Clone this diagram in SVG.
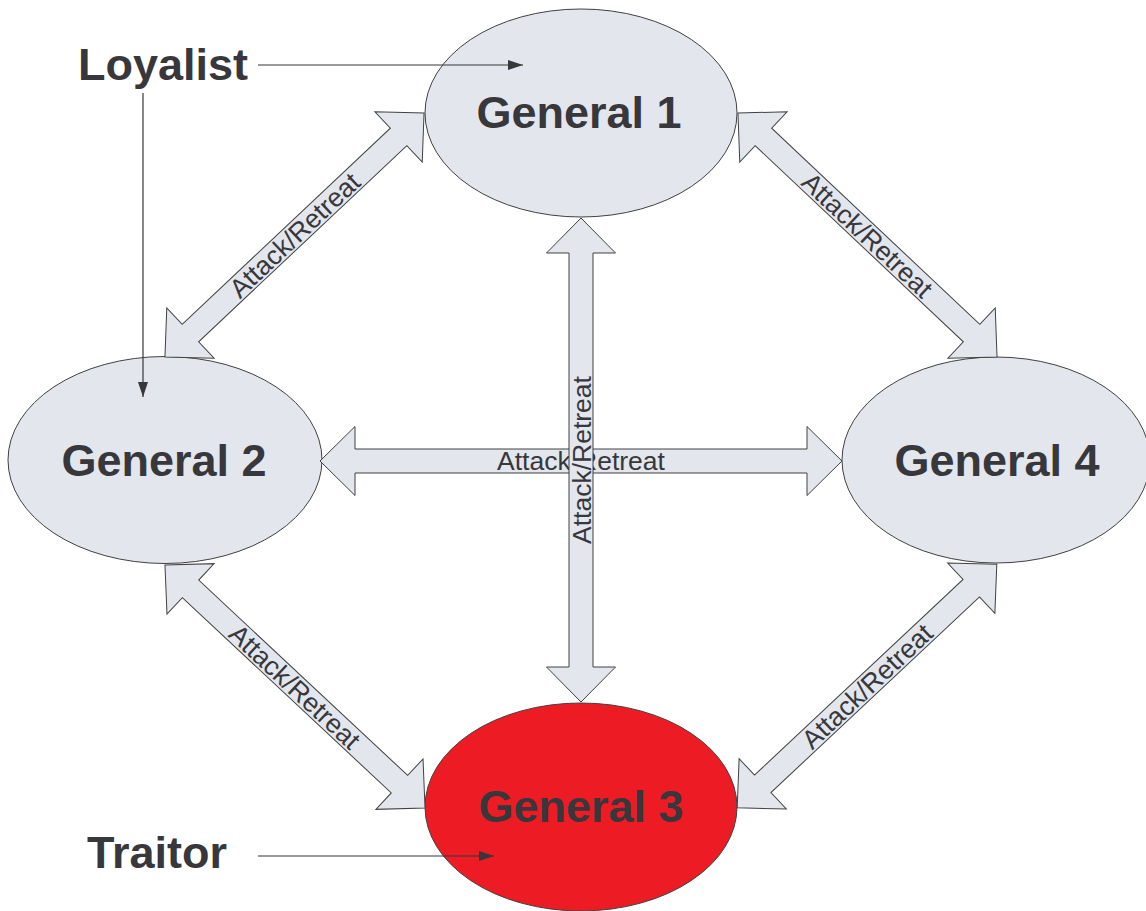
<svg xmlns="http://www.w3.org/2000/svg" xmlns:xlink="http://www.w3.org/1999/xlink" width="1146" height="911" viewBox="0 0 1146 911">
<style>
.node{fill:#e3e6ed;stroke:#404040;stroke-width:1}
.traitor{fill:#ed1c24;stroke:#404040;stroke-width:1}
.title{font-family:"Liberation Sans",Arial,sans-serif;font-weight:bold;font-size:45px;fill:#37373c;text-anchor:middle}
.side{font-family:"Liberation Sans",Arial,sans-serif;font-weight:bold;font-size:45px;fill:#37373c}
.blk{fill:#e3e6ed;stroke:#404040;stroke-width:1}
.lbl{font-family:"Liberation Sans",Arial,sans-serif;font-size:26.5px;fill:#37373c;text-anchor:middle}
.ptr{stroke:#37373c;stroke-width:1.2;fill:none}
</style>
<defs>
<polygon id="diag" points="-178,0 -143,-34.5 -143,-12 143,-12 143,-34.5 178,0 143,34.5 143,12 -143,12 -143,34.5"/>
<marker id="tri" viewBox="0 0 15 10" refX="15" refY="5" markerWidth="15" markerHeight="10" markerUnits="userSpaceOnUse" orient="auto">
<path d="M0,0 L15,5 L0,10 Z" fill="#37373c"/>
</marker>
</defs>
<g id="general1"><ellipse class="node" cx="581" cy="113" rx="156" ry="104"/><text class="title" x="579" y="128">General 1</text></g>
<g id="general2"><ellipse class="node" cx="165" cy="460" rx="157" ry="103.5"/><text class="title" x="164" y="476">General 2</text></g>
<g id="general4"><ellipse class="node" cx="996" cy="460" rx="154" ry="103"/><text class="title" x="997" y="476">General 4</text></g>
<g id="general3"><ellipse class="traitor" cx="581" cy="807" rx="156" ry="104"/><text class="title" x="581" y="822">General 3</text></g>
<g id="connectors">
<g transform="translate(294.5,235) rotate(-43.3)"><use xlink:href="#diag" class="blk"/><text class="lbl" x="0" y="9.5">Attack/Retreat</text></g>
<g transform="translate(867.5,235) rotate(43.3)"><use xlink:href="#diag" class="blk"/><text class="lbl" x="0" y="9.5">Attack/Retreat</text></g>
<g transform="translate(295,686.5) rotate(43.07)"><use xlink:href="#diag" class="blk"/><text class="lbl" x="0" y="9.5">Attack/Retreat</text></g>
<g transform="translate(867,686) rotate(-43.18)"><use xlink:href="#diag" class="blk"/><text class="lbl" x="0" y="9.5">Attack/Retreat</text></g>
<g transform="translate(581,461)"><polygon class="blk" points="-261,0 -226,-34.5 -226,-12 226,-12 226,-34.5 261,0 226,34.5 226,12 -226,12 -226,34.5"/><text class="lbl" x="0" y="9">Attack/Retreat</text></g>
<g transform="translate(581,460) rotate(-90)"><polygon class="blk" points="-242,0 -207,-34.5 -207,-12 207,-12 207,-34.5 242,0 207,34.5 207,12 -207,12 -207,34.5"/><text class="lbl" x="0" y="9.5">Attack/Retreat</text></g>
<line class="ptr" x1="258" y1="65" x2="523" y2="65" marker-end="url(#tri)"/>
<line class="ptr" x1="143" y1="93" x2="143" y2="397" marker-end="url(#tri)"/>
<line class="ptr" x1="258" y1="856" x2="494" y2="856" marker-end="url(#tri)"/>
</g>
<g id="labels">
<text class="side" x="78" y="80">Loyalist</text>
<text class="side" x="87" y="868">Traitor</text>
</g>
</svg>
